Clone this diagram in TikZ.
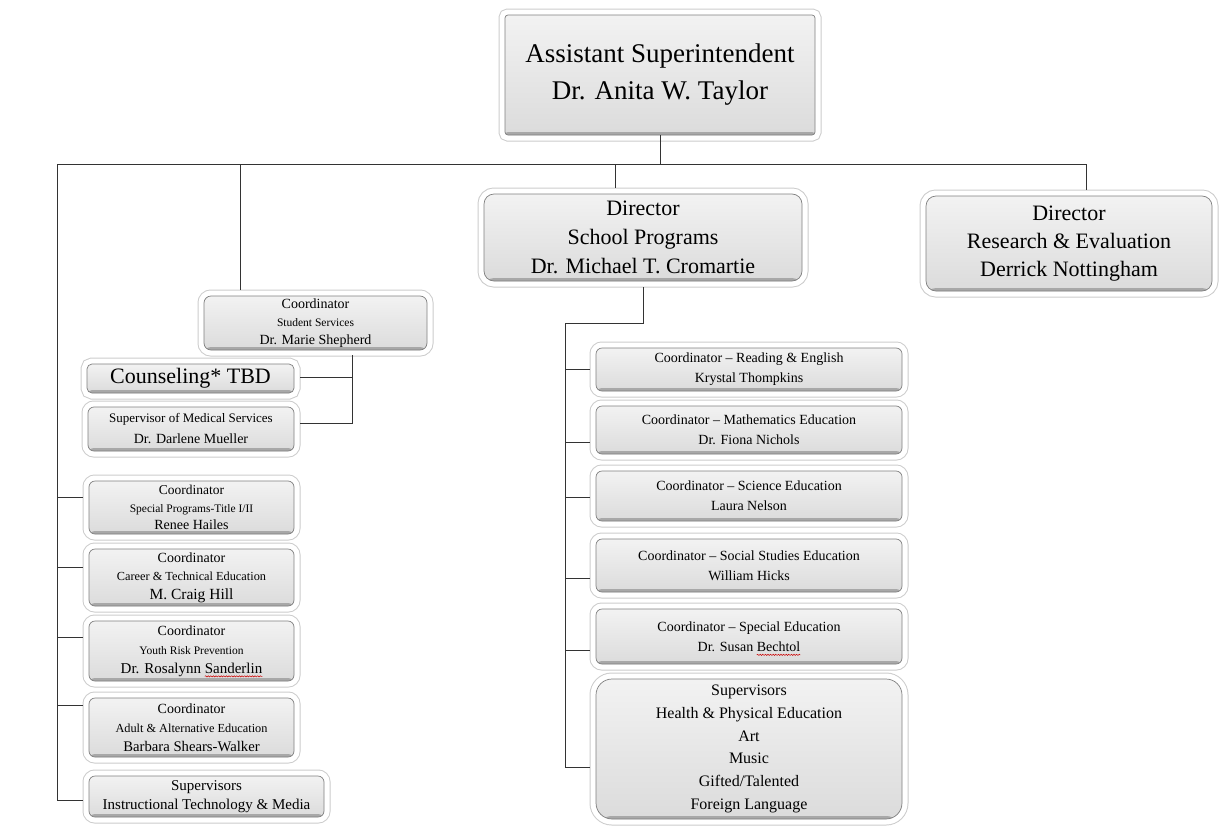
\documentclass[tikz,border=0pt]{standalone}
\usepackage{fontspec}
\setmainfont{Liberation Serif}
\usetikzlibrary{decorations.pathmorphing}

% font size helper: size / baseline skip in pt
\newcommand{\setfs}[2]{\fontsize{#1}{#2}\selectfont}
% widths used to place the spell-check underlines
\newlength{\lineRS}\newlength{\wordRS}
\newlength{\lineSB}\newlength{\wordSB}

\begin{document}
\settowidth{\lineRS}{\setfs{15}{19}Dr. Rosalynn Sanderlin}%
\settowidth{\wordRS}{\setfs{15}{19}Sanderlin}%
\settowidth{\lineSB}{\setfs{14}{20}Dr. Susan Bechtol}%
\settowidth{\wordSB}{\setfs{14}{20}Bechtol}%
\begin{tikzpicture}[x=1pt, y=-1pt,
  card/.style={rectangle, rounded corners=#1, draw=black!50, line width=0.7pt,
    top color=black!5, bottom color=black!14, align=center, inner sep=0pt,
    preaction={draw=black!20, fill=none, line width=13pt},
    preaction={draw=white, fill=none, line width=11pt},
    path picture={\fill[black!34] ([yshift=3pt]path picture bounding box.south west)
       rectangle (path picture bounding box.south east);}},
  card/.default=6pt,
  wire/.style={draw=black!80, line width=1pt},
  spellwave/.style={draw=red!80!black, line width=0.5pt, decorate,
    decoration={snake, amplitude=0.6pt, segment length=2.6pt}},
]
\useasboundingbox[fill=white] (0,0) rectangle (1223,827);

% ---- top level ----
\node[card=3pt, minimum width=310pt, minimum height=120pt, font=\setfs{27}{37}]
  (top) at (660,75) {Assistant Superintendent\\Dr. Anita W. Taylor};

% ---- directors ----
\node[card=10pt, minimum width=318pt, minimum height=87pt, font=\setfs{22}{29}]
  (dsp) at (643,237.5) {Director\\School Programs\\Dr. Michael T. Cromartie};
\node[card=10pt, minimum width=286pt, minimum height=95pt, font=\setfs{22}{28}]
  (dre) at (1069,243.5) {Director\\Research \& Evaluation\\Derrick Nottingham};

% ---- student services branch ----
\node[card=7pt, minimum width=223pt, minimum height=54pt, font=\setfs{14}{18}]
  (ss) at (315.5,323) {Coordinator\\{\setfs{11.5}{18}Student Services}\\Dr. Marie Shepherd};
\node[card=5pt, minimum width=207pt, minimum height=29pt, font=\setfs{22}{26}]
  (couns) at (190.5,378.5) {Counseling* TBD};
\node[card, minimum width=206pt, minimum height=44pt, font=\setfs{14}{21}]
  (med) at (191,429) {{\setfs{13}{21}Supervisor of Medical Services}\\Dr. Darlene Mueller};

% ---- left column ----
\node[card, minimum width=205pt, minimum height=53pt, font=\setfs{14}{17.5}]
  (sp) at (191.5,507.5) {{\setfs{13.5}{17.5}Coordinator}\\{\setfs{11.5}{17.5}Special Programs-Title I/II}\\Renee Hailes};
\node[card, minimum width=205pt, minimum height=57pt, font=\setfs{14}{18.5}]
  (cte) at (191.5,577.5) {Coordinator\\{\setfs{12.3}{18.5}Career \& Technical Education}\\{\setfs{15.5}{18.5}M. Craig Hill}};
\node[card, minimum width=205pt, minimum height=60pt, font=\setfs{14}{19}]
  (yrp) at (191.5,651) {Coordinator\\{\setfs{11.5}{19}Youth Risk Prevention}\\{\setfs{15}{19}Dr. Rosalynn Sanderlin}};
\node[card, minimum width=205pt, minimum height=59pt, font=\setfs{14}{19}]
  (aae) at (191.5,727.5) {Coordinator\\{\setfs{12.3}{19}Adult \& Alternative Education}\\{\setfs{14.7}{19}Barbara Shears-Walker}};
\node[card, minimum width=235pt, minimum height=41pt, font=\setfs{15}{19}]
  (itm) at (206.5,796.5) {Supervisors\\Instructional Technology \& Media};

% ---- right column ----
\node[card, minimum width=306pt, minimum height=43pt, font=\setfs{14}{20}]
  (re) at (749,369.5) {Coordinator – Reading \& English\\Krystal Thompkins};
\node[card, minimum width=306pt, minimum height=48pt, font=\setfs{14}{20}]
  (me) at (749,430) {Coordinator – Mathematics Education\\Dr. Fiona Nichols};
\node[card, minimum width=306pt, minimum height=50pt, font=\setfs{14}{20}]
  (se) at (749,496) {Coordinator – Science Education\\Laura Nelson};
\node[card, minimum width=306pt, minimum height=53pt, font=\setfs{14}{20}]
  (sse) at (749,565.5) {Coordinator – Social Studies Education\\William Hicks};
\node[card, minimum width=306pt, minimum height=55pt, font=\setfs{14}{20}]
  (spe) at (749,636.5) {Coordinator – Special Education\\Dr. Susan Bechtol};
\node[card=16pt, minimum width=306pt, minimum height=140pt, font=\setfs{16}{22.8}]
  (sup) at (749,749) {Supervisors\\Health \& Physical Education\\Art\\Music\\Gifted/Talented\\Foreign Language};

% ---- spell-check underlines ----
\draw[spellwave] ([xshift={0.5\lineRS-\wordRS}, yshift=5pt]yrp.south)
  -- ([xshift={0.5\lineRS}, yshift=5pt]yrp.south);
\draw[spellwave] ([xshift={0.5\lineSB-\wordSB}, yshift=9.5pt]spe.south)
  -- ([xshift={0.5\lineSB}, yshift=9.5pt]spe.south);

% ---- main bus ----
\coordinate (busL) at (57,164);
\coordinate (busR) at (1086,164);
\coordinate (tapSS) at (240,164);
\coordinate (tapDSP) at (615,164);
\draw[wire] (busL) -- (busR);
\draw[wire] (top.south) -- (top.south |- busL);
\draw[wire, shorten >=6pt] (tapSS) -- (tapSS |- ss.north);
\draw[wire, shorten >=6pt] (tapDSP) -- (tapDSP |- dsp.north);
\draw[wire, shorten >=6pt] (busR) -- (busR |- dre.north);

% ---- left trunk ----
\foreach \n/\dy in {sp/10.5, cte/10.5, yrp/14, aae/22.5, itm/-3.5}
  \path ([yshift=\dy pt]\n.west) coordinate (\n-in);
\draw[wire, shorten >=6pt] (busL) |- (itm-in);
\foreach \n in {sp, cte, yrp, aae}
  \draw[wire, shorten >=6pt] (busL |- \n-in) -- (\n-in);

% ---- student services children ----
\path ([xshift=36.5pt]ss.south) coordinate (ssdrop);
\path ([yshift=1.5pt]couns.east) coordinate (couns-in);
\path ([yshift=6pt]med.east) coordinate (med-in);
\draw[wire, shorten <=5pt, shorten >=6pt] (ssdrop) |- (med-in);
\draw[wire, shorten >=6pt] (ssdrop |- couns-in) -- (couns-in);

% ---- school programs trunk ----
\coordinate (rjoin) at (565,323);
\foreach \n/\dy in {re/0, me/-12, se/-1, sse/-12.5, spe/-13.5, sup/-18}
  \path ([yshift=\dy pt]\n.west) coordinate (\n-in);
\draw[wire, shorten <=6pt] (dsp.south) |- (rjoin);
\draw[wire, shorten >=6pt] (rjoin) |- (sup-in);
\foreach \n in {re, me, se, sse, spe}
  \draw[wire, shorten >=6pt] (rjoin |- \n-in) -- (\n-in);
\end{tikzpicture}
\end{document}
